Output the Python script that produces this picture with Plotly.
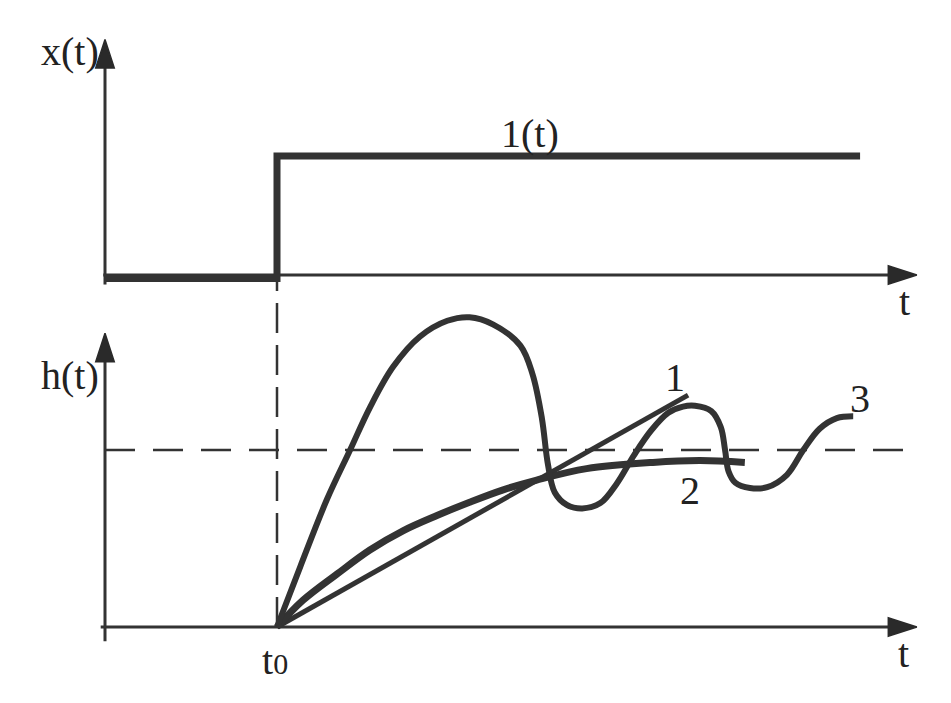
import plotly.graph_objects as go

# ---- data ----
T0 = 2.0
# step input 1(t)
step_t = [0.0, 2.0, 2.0, 8.78]
step_x = [-0.03, -0.03, 1.0, 1.0]

# response 1 (straight line)
c1_t = [2.0, 6.78]
c1_h = [0.0, 1.31]

# response 2 (aperiodic)
c2_t = [2.00, 2.30, 2.70, 3.08, 3.47, 3.86, 4.24, 4.63, 5.02, 5.60, 6.37, 6.92, 7.44]
c2_h = [0.00, 0.15, 0.30, 0.435, 0.545, 0.63, 0.705, 0.775, 0.83, 0.895, 0.93, 0.94, 0.93]

# response 3 (oscillating)
c3_t = [2.00, 2.27, 2.58, 2.85, 3.08, 3.35, 3.66, 3.98, 4.24, 4.51,
        4.83, 4.97, 5.08, 5.15, 5.23, 5.37, 5.55, 5.76, 5.95, 6.15,
        6.35, 6.55, 6.72, 6.86, 7.05, 7.16, 7.21, 7.25, 7.33, 7.50,
        7.70, 7.93, 8.12, 8.31, 8.51, 8.70]
c3_h = [0.00, 0.34, 0.72, 1.00, 1.24, 1.47, 1.64, 1.73, 1.75, 1.71,
        1.59, 1.43, 1.18, 0.92, 0.76, 0.69, 0.67, 0.70, 0.81, 0.97,
        1.11, 1.21, 1.245, 1.25, 1.22, 1.13, 1.00, 0.88, 0.815, 0.785,
        0.79, 0.86, 1.00, 1.12, 1.18, 1.19]

H_STEADY = 1.0
T_AXIS_END = 9.44
DASH_END = 9.3
X_AXIS_TOP = 1.98
H_AXIS_TOP = 1.66
T0_DASH_TOP = 1.97

INK = "#333333"
FONT = "Liberation Serif, Times New Roman, serif"

fig = go.Figure()

def axis_arrow(xs, ys, yaxis):
    fig.add_trace(go.Scatter(x=xs, y=ys, yaxis=yaxis, mode="lines+markers",
                             line=dict(color=INK, width=3),
                             marker=dict(symbol="arrow", size=[0, 30], angleref="previous",
                                         color="#2a2a2a", opacity=1,
                                         line=dict(width=1.5, color="#2a2a2a")),
                             hoverinfo="skip"))

# axes of upper plot (x(t))
axis_arrow([0.0, 0.0], [-0.08, X_AXIS_TOP], "y2")
axis_arrow([-0.02, T_AXIS_END], [0.0, 0.0], "y2")
# axes of lower plot (h(t))
axis_arrow([0.0, 0.0], [-0.08, H_AXIS_TOP], "y")
axis_arrow([-0.05, T_AXIS_END], [0.0, 0.0], "y")

# step
fig.add_trace(go.Scatter(x=step_t, y=step_x, yaxis="y2", mode="lines",
                         line=dict(color=INK, width=7), hoverinfo="skip"))
# steady-state dashed line
fig.add_trace(go.Scatter(x=[0.0, DASH_END], y=[H_STEADY, H_STEADY], mode="lines",
                         line=dict(color=INK, width=2.5, dash="30px,18px"), hoverinfo="skip"))
# t0 dashed vertical
fig.add_trace(go.Scatter(x=[T0, T0], y=[0.0, T0_DASH_TOP], mode="lines",
                         line=dict(color=INK, width=2.5, dash="30px,12px"), hoverinfo="skip"))
# curves
fig.add_trace(go.Scatter(x=c1_t, y=c1_h, mode="lines",
                         line=dict(color=INK, width=5), hoverinfo="skip"))
fig.add_trace(go.Scatter(x=c2_t, y=c2_h, mode="lines",
                         line=dict(color=INK, width=7, shape="spline"), hoverinfo="skip"))
fig.add_trace(go.Scatter(x=c3_t, y=c3_h, mode="lines",
                         line=dict(color=INK, width=6, shape="spline"), hoverinfo="skip"))

ann = []
def label(x, y, text, yref="y", xanchor="center", size=40):
    ann.append(dict(x=x, y=y, xref="x", yref=yref, text=text, showarrow=False,
                    xanchor=xanchor, yanchor="middle",
                    font=dict(family=FONT, size=size, color="#222222")))

label(-0.05, 1.88, "x(t)", "y2", xanchor="right")
label(4.94, 1.19, "1(t)", "y2")
label(9.30, -0.22, "t", "y2")
label(-0.05, 1.42, "h(t)", "y", xanchor="right")
label(9.28, -0.15, "t", "y")
label(1.98, -0.19, "t<span style='font-size:30px'>0</span>", "y")
label(6.63, 1.41, "1", "y")
label(6.80, 0.77, "2", "y")
label(8.78, 1.29, "3", "y")

fig.update_layout(
    width=951, height=703,
    margin=dict(l=0, r=0, t=0, b=0),
    paper_bgcolor="white", plot_bgcolor="white",
    showlegend=False,
    annotations=ann,
    xaxis=dict(range=[-105 / 86, 846 / 86], visible=False, fixedrange=True),
    yaxis=dict(range=[-76 / 177, 627 / 177], visible=False, domain=[0, 1], fixedrange=True),
    yaxis2=dict(range=[-428 / 119, 275 / 119], visible=False, overlaying="y", fixedrange=True),
)

fig.write_html("out.html", config={"displayModeBar": False},
               post_script="document.body.style.margin='0';")
